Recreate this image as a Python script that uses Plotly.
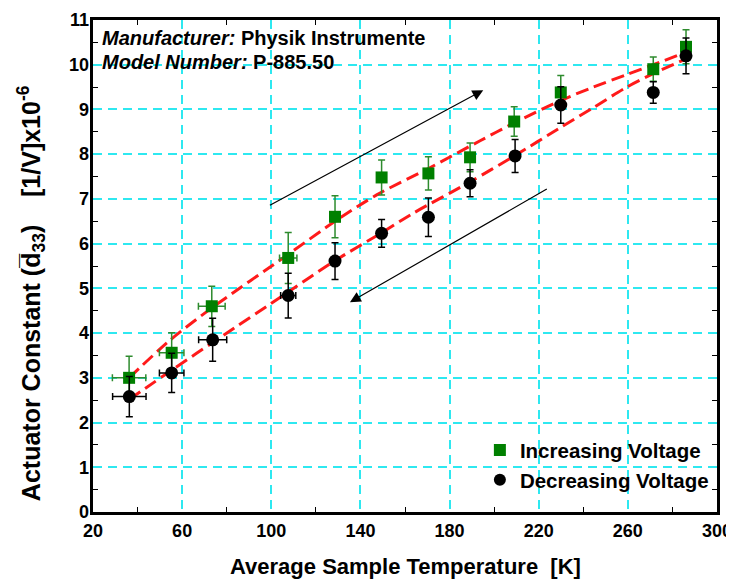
import plotly.graph_objects as go

# Data
temp_inc = [36.2, 55.3, 73.3, 107.6, 128.6, 149.5, 170.5, 189.2, 209.0, 229.9, 271.4, 286.1]
d33_inc = [3.0, 3.56, 4.6, 5.68, 6.6, 7.48, 7.57, 7.93, 8.73, 9.38, 9.9, 10.4]
d33_inc_err = [0.48, 0.45, 0.45, 0.57, 0.47, 0.39, 0.37, 0.32, 0.33, 0.38, 0.27, 0.38]
temp_inc_err = [7.5, 5.5, 6.0, 3.9, 0, 0, 0, 0, 0, 0, 0, 0]

temp_dec = [36.3, 55.3, 73.7, 107.6, 128.6, 149.5, 170.5, 189.2, 209.4, 229.9, 271.4, 286.1]
d33_dec = [2.58, 3.11, 3.85, 4.84, 5.61, 6.23, 6.59, 7.35, 7.96, 9.1, 9.38, 10.2]
d33_dec_err = [0.45, 0.44, 0.48, 0.5, 0.41, 0.31, 0.43, 0.3, 0.37, 0.41, 0.24, 0.4]
temp_dec_err = [7.5, 5.5, 6.3, 3.4, 0, 0, 0, 0, 0, 0, 0, 0]

fit_up_t = [36.2, 55.0, 73.5, 107.6, 128.6, 147.3, 170.5, 193.7, 209.0, 229.9, 244.5, 259.5, 271.4, 287.0]
fit_up_v = [3.0, 3.86, 4.57, 5.76, 6.5, 7.09, 7.68, 8.3, 8.7, 9.2, 9.5, 9.78, 10.0, 10.3]
fit_dn_t = [36.3, 55.3, 75.5, 107.6, 128.6, 149.1, 163.7, 189.2, 209.0, 229.9, 244.5, 259.5, 271.4, 287.0]
fit_dn_v = [2.52, 3.17, 3.85, 4.92, 5.62, 6.23, 6.68, 7.38, 7.96, 8.6, 9.04, 9.5, 9.8, 10.15]

arrow_up_tail = (98.7, 6.84)
arrow_up_head = (195.1, 9.43)
arrow_dn_tail = (224.3, 7.24)
arrow_dn_head = (135.3, 4.69)

x_range = [20, 300]
y_range = [0, 11]
x_label_start, x_label_step = 20, 40   # labelled ticks with grid
x_minor_start, x_minor_step = 40, 40   # small black ticks
y_label_start, y_label_step = 0, 1
y_minor_start, y_minor_step = 0.5, 1

FONT = "Liberation Sans, Arial, sans-serif"
GRID = "#2ee8f0"

fig = go.Figure()

# invisible anchor trace for the grid/label axes
fig.add_trace(go.Scatter(x=[x_range[0]], y=[y_range[0]], xaxis="x2", yaxis="y2", mode="markers",
                         marker=dict(opacity=0), showlegend=False, hoverinfo="skip"))

for tt, vv in [(fit_up_t, fit_up_v), (fit_dn_t, fit_dn_v)]:
    fig.add_trace(go.Scatter(
        x=tt, y=vv, mode="lines",
        line=dict(color="#ff1a1a", width=3, dash="13px,6px", shape="spline", smoothing=0.8),
        showlegend=False, hoverinfo="skip"))

fig.add_trace(go.Scatter(
    x=temp_inc, y=d33_inc, mode="markers", name="Increasing Voltage",
    marker=dict(symbol="square", size=12, color="#008000"),
    error_y=dict(type="data", array=d33_inc_err, color="#2e8b2e", thickness=1.5, width=3.5),
    error_x=dict(type="data", array=temp_inc_err, color="#2e8b2e", thickness=1.5, width=3.5)))
fig.add_trace(go.Scatter(
    x=temp_dec, y=d33_dec, mode="markers", name="Decreasing Voltage",
    marker=dict(symbol="circle", size=13, color="black"),
    error_y=dict(type="data", array=d33_dec_err, color="black", thickness=1.5, width=3.5),
    error_x=dict(type="data", array=temp_dec_err, color="black", thickness=1.5, width=3.5)))

for tail, head in [(arrow_up_tail, arrow_up_head), (arrow_dn_tail, arrow_dn_head)]:
    fig.add_annotation(x=head[0], y=head[1], ax=tail[0], ay=tail[1], xref="x", yref="y",
                       axref="x", ayref="y", showarrow=True, arrowhead=2, arrowsize=1.8,
                       arrowwidth=1.2, arrowcolor="black", text="")

fig.add_annotation(x=0.011, y=0.963, xref="paper", yref="paper", xanchor="left", yanchor="middle",
                   text="<i>Manufacturer:</i> Physik Instrumente", showarrow=False,
                   font=dict(family=FONT, size=20, color="black", weight="bold"))
fig.add_annotation(x=0.011, y=0.915, xref="paper", yref="paper", xanchor="left", yanchor="middle",
                   text="<i>Model Number:</i> P-885.50", showarrow=False,
                   font=dict(family=FONT, size=20, color="black", weight="bold"))

# Axis titles
fig.add_annotation(x=0.5, y=-0.11, xref="paper", yref="paper", xanchor="center", yanchor="middle",
                   text="Average Sample Temperature  [K]", showarrow=False,
                   font=dict(family=FONT, size=22, color="black", weight="bold"))
fig.add_annotation(x=-0.1, y=0.444, xref="paper", yref="paper", xanchor="center", yanchor="middle",
                   textangle=-90,
                   text="Actuator Constant (d\u0305<sub>33</sub>)    [1/V]x10<sup>-6</sup>", showarrow=False,
                   font=dict(family=FONT, size=25, color="black", weight="bold"))

tickfont = dict(family=FONT, size=18, color="black", weight="bold")

# main axes: frame + small inside ticks
fig.update_layout(
    xaxis=dict(range=x_range, tickmode="linear", tick0=x_minor_start, dtick=x_minor_step,
               showticklabels=False, ticks="inside", ticklen=5, tickcolor="black", tickwidth=1,
               showline=True, linewidth=2.5, linecolor="black", mirror="allticks",
               showgrid=False, zeroline=False),
    yaxis=dict(range=y_range, tickmode="linear", tick0=y_minor_start, dtick=y_minor_step,
               showticklabels=False, ticks="inside", ticklen=5, tickcolor="black", tickwidth=1,
               showline=True, linewidth=2.5, linecolor="black", mirror="allticks",
               showgrid=False, zeroline=False),
    # overlay axes: labels + cyan dashed grid
    xaxis2=dict(range=x_range, overlaying="x", side="bottom", tickmode="linear",
                tick0=x_label_start, dtick=x_label_step, ticks="", showline=False,
                showgrid=True, gridcolor=GRID, gridwidth=1.5, griddash="9px,6px", zeroline=False,
                tickfont=tickfont, ticklabelstandoff=6),
    yaxis2=dict(range=y_range, overlaying="y", side="left", tickmode="linear",
                tick0=y_label_start, dtick=y_label_step, ticks="", showline=False,
                showgrid=True, gridcolor=GRID, gridwidth=1.5, griddash="9px,6px", zeroline=False,
                tickfont=tickfont, ticklabelstandoff=3),
)

fig.update_layout(
    width=734, height=579,
    margin=dict(l=85, r=25, t=12, b=75, autoexpand=False),
    paper_bgcolor="white", plot_bgcolor="white",
    legend=dict(x=0.995, y=0.024, xanchor="right", yanchor="bottom", bgcolor="rgba(0,0,0,0)",
                font=dict(family=FONT, size=20.5, color="black", weight="bold"),
                itemsizing="constant", tracegroupgap=0, itemwidth=30),
    showlegend=True,
)

fig.write_html("out.html")
